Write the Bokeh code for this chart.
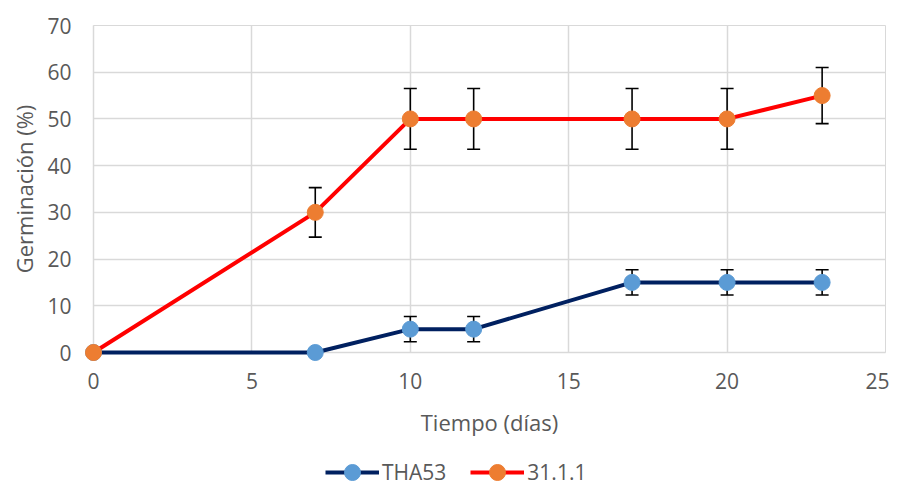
from bokeh.plotting import figure
from bokeh.layouts import column
from bokeh.models import (Range1d, Whisker, ColumnDataSource, Legend, LegendItem,
                          TeeHead, FixedTicker)
from bokeh.embed import file_html
from bokeh.resources import INLINE

# ---- data ----
days = [0, 7, 10, 12, 17, 20, 23]
tha53 = [0, 0, 5, 5, 15, 15, 15]
tha53_err = [0, 0, 2.7, 2.7, 2.7, 2.7, 2.7]
s3111 = [0, 30, 50, 50, 50, 50, 55]
s3111_err = [0, 5.3, 6.5, 6.5, 6.5, 6.5, 6.0]
x_ticks = [0, 5, 10, 15, 20, 25]
y_ticks = [0, 10, 20, 30, 40, 50, 60, 70]
series_names = ["THA53", "31.1.1"]
series_line_colors = ["#002060", "#FF0000"]
series_marker_colors = ["#5B9BD5", "#ED7D31"]

FONT = "Open Sans"
GRID = "#d9d9d9"
TXT = "#595959"

p = figure(width=889, height=458, x_range=Range1d(0, 25), y_range=Range1d(0, 70),
           output_backend="svg", toolbar_location=None,
           min_border_left=93, min_border_right=4, min_border_top=25, min_border_bottom=106)

p.outline_line_color = GRID
p.xgrid.grid_line_color = GRID
p.ygrid.grid_line_color = GRID
p.xgrid.grid_line_width = 1.5
p.ygrid.grid_line_width = 1.5
p.xaxis.ticker = FixedTicker(ticks=x_ticks)
p.yaxis.ticker = FixedTicker(ticks=y_ticks)
p.xgrid.ticker = FixedTicker(ticks=x_ticks)
p.ygrid.ticker = FixedTicker(ticks=y_ticks)

for ax in (p.xaxis[0], p.yaxis[0]):
    ax.axis_line_color = GRID
    ax.axis_line_width = 1.5
    ax.major_tick_line_color = None
    ax.minor_tick_line_color = None
    ax.major_tick_out = 0
    ax.major_tick_in = 0
    ax.major_label_text_font = FONT
    ax.major_label_text_font_size = "21px"
    ax.major_label_text_color = TXT
    ax.axis_label_text_font = FONT
    ax.axis_label_text_font_size = "22px"
    ax.axis_label_text_color = TXT
    ax.axis_label_text_font_style = "normal"

p.xaxis.axis_label = "Tiempo (días)"
p.yaxis.axis_label = "Germinación (%)"
p.xaxis.major_label_standoff = 20
p.yaxis.major_label_standoff = 22
p.xaxis.axis_label_standoff = 15
p.yaxis.axis_label_standoff = 5

def bars(vals, errs):
    idx = [i for i, e in enumerate(errs) if e > 0]
    return ColumnDataSource(dict(
        x=[days[i] for i in idx],
        upper=[vals[i] + errs[i] for i in idx],
        lower=[vals[i] - errs[i] for i in idx]))

for vals, errs in ((tha53, tha53_err), (s3111, s3111_err)):
    w = Whisker(source=bars(vals, errs), base="x", upper="upper", lower="lower",
                line_color="black", line_width=1.6,
                upper_head=TeeHead(size=13, line_color="black", line_width=1.6),
                lower_head=TeeHead(size=13, line_color="black", line_width=1.6))
    p.add_layout(w)

for vals, lc, mc in ((tha53, series_line_colors[0], series_marker_colors[0]),
                     (s3111, series_line_colors[1], series_marker_colors[1])):
    p.line(days, vals, line_color=lc, line_width=4, level="overlay")
    p.scatter(days, vals, size=16, fill_color=mc, line_color=mc, level="overlay")

# ---- legend strip (separate, axis-less figure; its data lies outside its view) ----
lf = figure(width=889, height=28, x_range=Range1d(-200, -199), y_range=Range1d(-200, -199),
            output_backend="svg", toolbar_location=None,
            min_border=0, outline_line_color=None)
lf.axis.visible = False
lf.grid.visible = False
items = []
for name, vals, lc, mc in zip(series_names, (tha53, s3111),
                              series_line_colors, series_marker_colors):
    lr = lf.line(days, vals, line_color=lc, line_width=4)
    mr = lf.scatter(days, vals, size=16, fill_color=mc, line_color=mc)
    items.append(LegendItem(label=name, renderers=[lr, mr]))
legend = Legend(items=items, orientation="horizontal", location=(232, -6),
                label_text_font=FONT, label_text_font_size="21px",
                label_text_color=TXT, glyph_width=54, glyph_height=40,
                spacing=24, label_standoff=3, border_line_color=None,
                background_fill_alpha=0, margin=0, padding=0)
lf.add_layout(legend, "center")

layout = column(p, lf, spacing=0)
open("out.html", "w").write(file_html(layout, INLINE))
